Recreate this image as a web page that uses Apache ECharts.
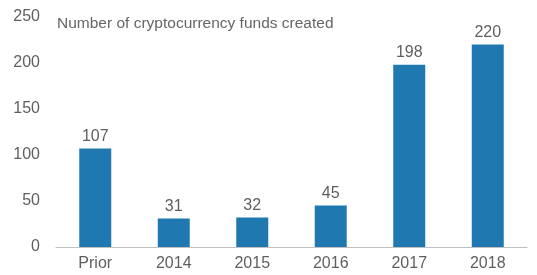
<!DOCTYPE html>
<html>
<head>
<meta charset="utf-8">
<script src="https://cdn.jsdelivr.net/npm/echarts@6/dist/echarts.min.js"></script>
<style>
html,body{margin:0;padding:0;background:#fff;}
#chart{width:537px;height:275px;}
</style>
</head>
<body>
<div id="chart"></div>
<script>
// funds created per period
var categories = ["Prior", "2014", "2015", "2016", "2017", "2018"];
var fundCounts = [107, 31, 32, 45, 198, 220];
var yTicks = [0, 50, 100, 150, 200, 250];

var myChart = echarts.init(document.getElementById("chart"));
var fontName = "'Liberation Sans', Arial, sans-serif";
var option = {
    animation: false,
    title: {
        text: "Number of cryptocurrency funds created",
        left: 52,
        top: 11,
        textStyle: {color: "#666666", fontSize: 15.5, fontWeight: "normal", fontFamily: fontName}
    },
    grid: {left: 56, right: 10, top: 17, bottom: 28},
    xAxis: {
        type: "category",
        data: categories,
        axisLine: {lineStyle: {color: "#c0c0c0"}},
        axisTick: {show: false},
        axisLabel: {color: "#5f5f5f", fontSize: 16, fontFamily: fontName, margin: 9}
    },
    yAxis: {
        type: "value",
        min: yTicks[0],
        max: yTicks[yTicks.length - 1],
        interval: 50,
        splitLine: {show: false},
        axisLine: {show: false},
        axisTick: {show: false},
        axisLabel: {color: "#5f5f5f", fontSize: 16, fontFamily: fontName, margin: 16}
    },
    series: [{
        type: "bar",
        data: fundCounts,
        barWidth: 32,
        itemStyle: {color: "#1f79b0"},
        label: {
            show: true,
            position: "top",
            distance: 4,
            color: "#5f5f5f",
            fontSize: 16,
            fontFamily: fontName
        }
    }]
};
myChart.setOption(option);
</script>
</body>
</html>
